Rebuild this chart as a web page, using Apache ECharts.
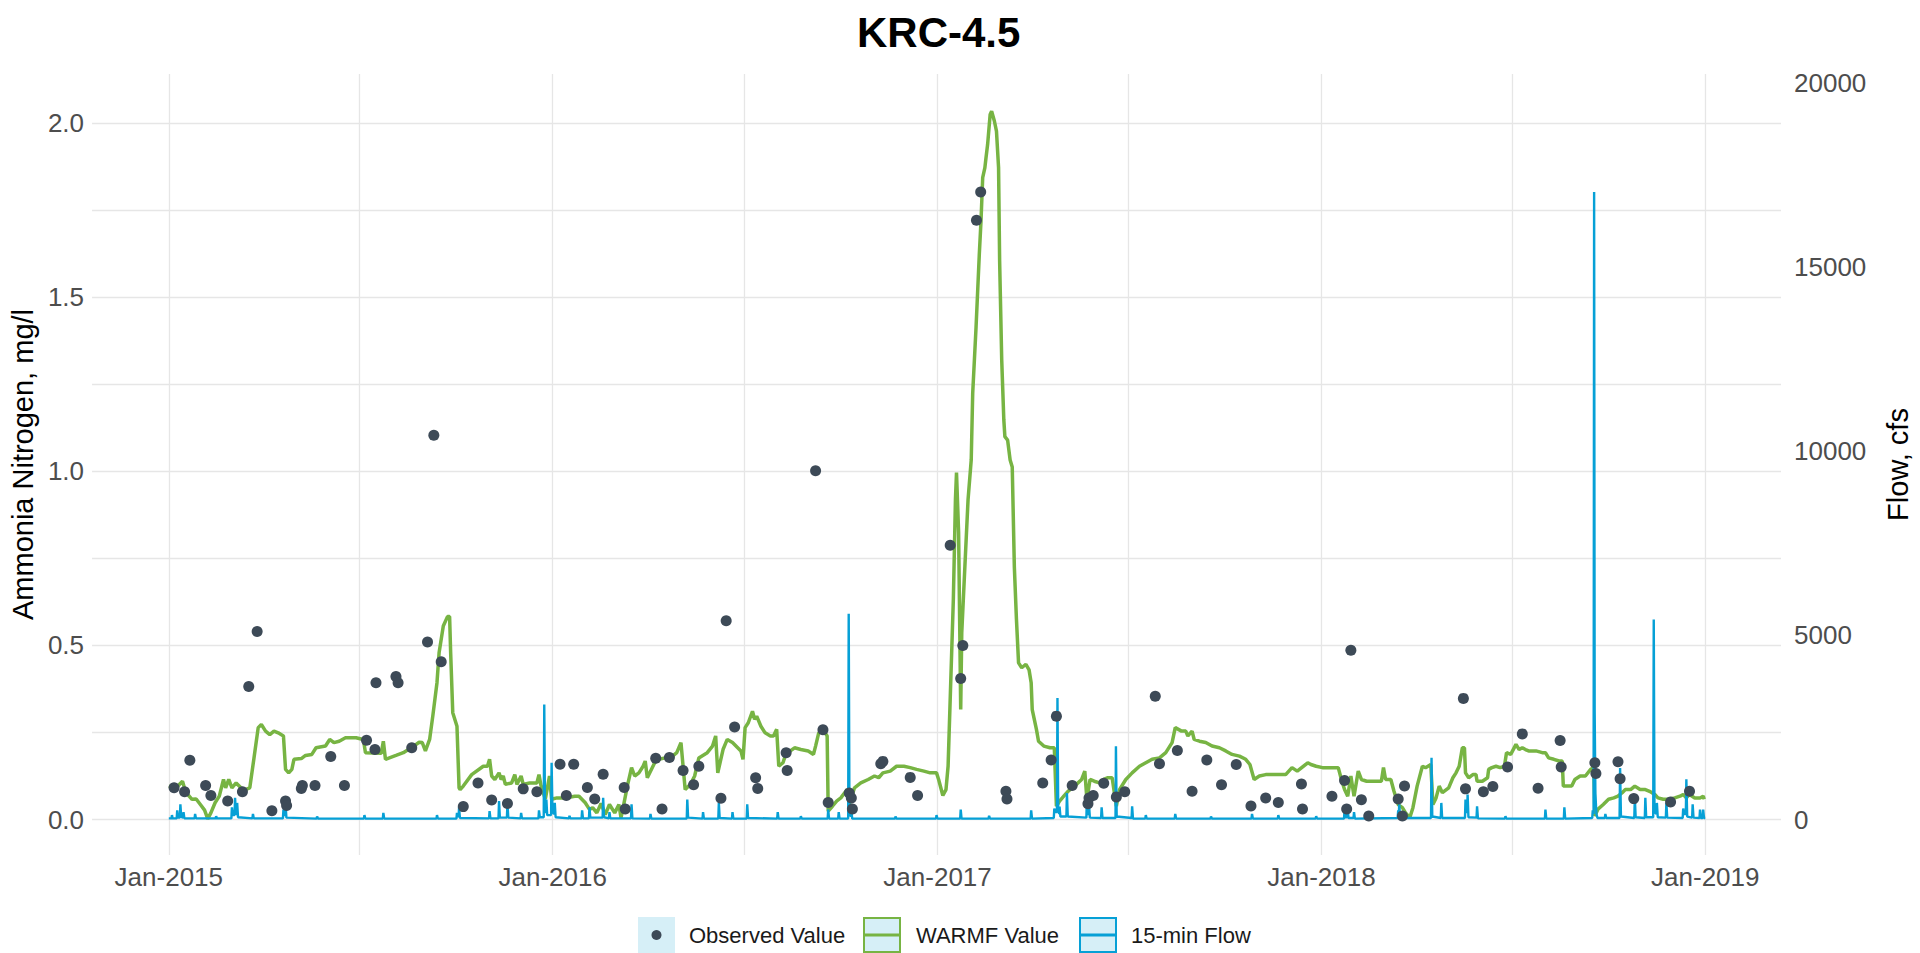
<!DOCTYPE html>
<html>
<head>
<meta charset="utf-8">
<title>KRC-4.5</title>
<script src="https://cdn.jsdelivr.net/npm/echarts@6/dist/echarts.min.js"></script>
<style>
html, body { margin: 0; padding: 0; background: #fff; }
#main { width: 1920px; height: 953px; }
</style>
</head>
<body>
<div id="main"></div>
<script>
// observed samples [date, mg/l]
var observed = [
['2015-01-06',0.091],['2015-01-16',0.080],['2015-01-21',0.170],['2015-02-05',0.098],['2015-02-10',0.069],['2015-02-26',0.053],['2015-03-12',0.080],['2015-03-18',0.382],['2015-03-26',0.540],['2015-04-09',0.025],['2015-04-22',0.053],['2015-04-23',0.040],['2015-05-07',0.089],['2015-05-08',0.098],['2015-05-20',0.098],['2015-06-04',0.181],['2015-06-17',0.098],['2015-07-08',0.228],['2015-07-16',0.201],['2015-07-17',0.393],['2015-08-05',0.411],['2015-08-07',0.393],['2015-08-20',0.206],['2015-09-04',0.510],['2015-09-10',1.104],['2015-09-17',0.453],['2015-10-08',0.037],['2015-10-22',0.105],['2015-11-04',0.056],['2015-11-19',0.046],['2015-12-04',0.088],['2015-12-17',0.080],
['2016-01-08',0.159],['2016-01-14',0.069],['2016-01-21',0.159],['2016-02-03',0.092],['2016-02-10',0.059],['2016-02-18',0.130],['2016-03-09',0.092],['2016-03-10',0.030],['2016-04-08',0.176],['2016-04-14',0.030],['2016-04-21',0.178],['2016-05-04',0.141],['2016-05-14',0.100],['2016-05-19',0.153],['2016-06-09',0.061],['2016-06-14',0.571],['2016-06-22',0.266],['2016-07-12',0.120],['2016-07-14',0.089],['2016-08-10',0.192],['2016-08-11',0.141],['2016-09-07',1.002],['2016-09-14',0.258],['2016-09-19',0.049],['2016-10-09',0.076],['2016-10-11',0.062],['2016-10-12',0.030],['2016-11-08',0.160],['2016-11-10',0.167],['2016-12-06',0.121],['2016-12-13',0.069],
['2017-01-13',0.788],['2017-01-23',0.405],['2017-01-25',0.500],['2017-02-07',1.722],['2017-02-11',1.803],['2017-03-07',0.081],['2017-03-08',0.059],['2017-04-11',0.105],['2017-04-19',0.171],['2017-04-24',0.297],['2017-05-09',0.098],['2017-05-24',0.045],['2017-05-25',0.062],['2017-05-29',0.069],['2017-06-08',0.104],['2017-06-20',0.065],['2017-06-28',0.080],['2017-07-27',0.354],['2017-07-31',0.160],['2017-08-17',0.198],['2017-08-31',0.081],['2017-09-14',0.171],['2017-09-28',0.100],['2017-10-12',0.158],['2017-10-26',0.039],['2017-11-09',0.062],['2017-11-21',0.049],['2017-12-13',0.102],['2017-12-14',0.030],
['2018-01-11',0.067],['2018-01-23',0.112],['2018-01-25',0.030],['2018-01-29',0.486],['2018-02-08',0.057],['2018-02-15',0.010],['2018-03-15',0.059],['2018-03-19',0.010],['2018-03-21',0.096],['2018-05-16',0.348],['2018-05-18',0.088],['2018-06-04',0.080],['2018-06-13',0.095],['2018-06-27',0.151],['2018-07-11',0.246],['2018-07-26',0.090],['2018-08-16',0.227],['2018-08-17',0.151],['2018-09-18',0.163],['2018-09-19',0.132],['2018-10-10',0.166],['2018-10-12',0.117],['2018-10-25',0.060],['2018-11-29',0.050],['2018-12-17',0.081]
];

// WARMF simulated [days after 2015-01-01, mg/l]
var warmf = [
[0,0.096],[7,0.091],[13,0.110],[16,0.079],[22,0.058],[26,0.059],[30,0.043],[34,0.027],[37,0.002],[40,0.019],[44,0.048],[48,0.067],[52,0.115],[54,0.091],[57,0.115],[60,0.091],[64,0.105],[71,0.084],[77,0.091],[81,0.177],[85,0.264],[88,0.273],[92,0.254],[96,0.244],[100,0.254],[104,0.249],[109,0.240],[111,0.144],[114,0.134],[117,0.144],[119,0.173],[126,0.175],[130,0.184],[136,0.187],[140,0.206],[149,0.211],[153,0.230],[157,0.221],[162,0.225],[168,0.235],[178,0.235],[185,0.230],[187,0.192],[202,0.190],[204,0.225],[206,0.173],[216,0.184],[223,0.192],[233,0.211],[238,0.222],[241,0.221],[244,0.197],[248,0.230],[251,0.297],[255,0.393],[257,0.479],[261,0.556],[265,0.583],[267,0.583],[268,0.479],[270,0.307],[274,0.268],[276,0.091],[277,0.086],[280,0.096],[288,0.129],[299,0.153],[303,0.153],[305,0.173],[307,0.125],[310,0.115],[314,0.134],[316,0.115],[318,0.125],[320,0.101],[326,0.105],[329,0.129],[331,0.101],[335,0.125],[337,0.101],[343,0.105],[350,0.105],[352,0.129],[354,0.096],[358,0.058],[362,0.125],[364,0.058],[369,0.062],[377,0.062],[386,0.067],[390,0.067],[396,0.048],[400,0.029],[403,0.034],[407,0.019],[411,0.046],[415,0.014],[419,0.043],[424,0.019],[428,0.043],[430,0.005],[432,0.034],[436,0.096],[440,0.149],[443,0.125],[447,0.134],[451,0.153],[453,0.168],[455,0.120],[462,0.163],[466,0.173],[472,0.177],[479,0.182],[483,0.192],[487,0.221],[491,0.086],[496,0.101],[500,0.125],[504,0.177],
[512,0.192],[517,0.211],[520,0.240],[522,0.134],[527,0.201],[531,0.230],[536,0.221],[544,0.197],[546,0.173],[548,0.264],[551,0.278],[555,0.311],[557,0.288],[559,0.297],[563,0.268],[567,0.249],[572,0.240],[575,0.240],[578,0.259],[580,0.153],[584,0.163],[586,0.182],[591,0.197],[595,0.206],[601,0.201],[608,0.197],[613,0.187],[615,0.211],[618,0.249],[623,0.254],[626,0.240],[627,0.024],[631,0.038],[635,0.053],[639,0.062],[645,0.086],[647,0.043],[652,0.091],[658,0.105],[665,0.115],[671,0.125],[675,0.120],[679,0.134],[686,0.139],[692,0.153],[699,0.153],[705,0.149],[711,0.144],[718,0.139],[724,0.134],[730,0.134],[732,0.115],[736,0.069],[739,0.086],[741,0.153],[743,0.345],[746,0.633],[748,0.920],[749,0.997],[751,0.825],[753,0.316],[754,0.537],[757,0.729],[760,0.920],[763,1.033],[764.4,1.224],[767.6,1.415],[769,1.51],[770.7,1.625],[772.3,1.72],[773.9,1.844],[776,1.873],[777,1.90],[778.6,1.94],[781,2.026],[782.4,2.035],[785,2.007],[787,1.978],[789,1.873],[790,1.606],[792,1.32],[794,1.148],[795,1.10],[797.6,1.09],[800,1.033],[802,1.013],[804,0.726],[806,0.575],[808,0.45],[811,0.436],[815,0.446],[818,0.43],[820,0.393],[821,0.316],[825,0.259],[827,0.225],[832,0.211],[838,0.206],[842,0.206],[844,0.038],[847,0.053],[851,0.067],[855,0.081],[859,0.091],[863,0.101],[868,0.115],[871,0.139],[873,0.058],[876,0.115],[880,0.110],[885,0.105],[889,0.115],[893,0.120],[897,0.120],[901,0.038],[904,0.086],[910,0.115],[916,0.134],[923,0.153],[929,0.163],[935,0.173],[942,0.177],[948,0.192],[954,0.221],[957,0.264],[963,0.254],[967,0.254],[969,0.240],[973,0.254],[975,0.230],[980,0.225],[986,0.221],[992,0.211],[999,0.206],[1005,0.197],[1011,0.187],[1018,0.182],[1024,0.173],[1028,0.158],[1032,0.115],[1037,0.125],[1043,0.129],[1054,0.129],[1062,0.129],[1068,0.149],[1073,0.139],[1083,0.163],
[1086,0.158],[1091,0.153],[1097,0.149],[1102,0.149],[1107,0.149],[1112,0.149],[1115,0.115],[1118,0.086],[1121,0.067],[1124,0.125],[1127,0.067],[1131,0.139],[1134,0.115],[1139,0.110],[1145,0.110],[1153,0.110],[1155,0.149],[1157,0.115],[1162,0.115],[1165,0.081],[1169,0.043],[1173,0.034],[1176,0.019],[1180,0.005],[1183,0.034],[1187,0.096],[1192,0.153],[1195,0.149],[1200,0.158],[1202,0.043],[1205,0.062],[1208,0.096],[1211,0.077],[1217,0.091],[1221,0.120],[1224,0.134],[1227,0.153],[1230,0.206],[1232,0.206],[1233,0.134],[1236,0.120],[1240,0.129],[1243,0.129],[1244,0.110],[1249,0.110],[1254,0.120],[1255,0.144],[1258,0.149],[1262,0.153],[1266,0.149],[1270,0.153],[1272,0.192],[1276,0.187],[1281,0.216],[1284,0.201],[1287,0.206],[1290,0.201],[1293,0.197],[1300,0.197],[1306,0.192],[1309,0.192],[1312,0.177],[1317,0.173],[1322,0.168],[1325,0.168],[1326,0.096],[1331,0.096],[1334,0.096],[1337,0.115],[1342,0.125],[1347,0.125],[1352,0.144],[1355,0.149],[1356,0.010],[1359,0.030],[1364,0.043],[1369,0.058],[1374,0.062],[1378,0.067],[1382,0.077],[1385,0.086],[1390,0.086],[1394,0.096],[1399,0.086],[1404,0.086],[1408,0.081],[1413,0.072],[1416,0.062],[1421,0.058],[1426,0.058],[1432,0.062],[1437,0.067],[1440,0.072],[1443,0.062],[1446,0.072],[1451,0.062],[1456,0.062],[1459,0.067],[1460,0.058]
];

// 15-min flow [days after 2015-01-01, cfs]
var flow = [
[0,30],[2.5,30],[3,120],[3.6,30],[7.5,30],[8,250],[8.8,50],[10.5,50],[11,410],[11.8,70],[13.5,50],[14,200],[14.8,30],[24.5,30],[25,150],[25.8,30],[44.5,30],[45,90],[45.8,30],[59.5,30],[60,330],[60.8,120],[62.5,120],[63,590],[63.8,150],[64.6,150],[65,450],[65.8,60],[79.5,30],[80,150],[80.8,30],[108.5,30],[109,270],[109.8,120],[110.5,120],[111,410],[111.8,50],[140.5,25],[141,80],[141.8,25],
[185.5,25],[186,120],[186.8,25],[203.5,25],[204,180],[204.8,25],[254.5,25],[255,120],[255.8,25],[273.5,25],[274,180],[274.8,90],[275.6,90],[276,330],[276.8,40],[304.5,30],[305,230],[305.8,30],[313.5,30],[314,500],[314.8,50],[321.5,50],[322,450],[322.8,50],[334.5,30],[335,180],[335.8,30],[351.5,30],[352,250],[352.8,60],[356.5,60],[357,3120],[357.7,200],[358.6,200],[359,540],[359.8,120],[363.5,120],[364,1540],[364.8,200],[366.5,150],[367,450],[367.8,60],
[380.5,30],[381,100],[381.8,30],[392.5,30],[393,250],[393.8,30],[399.5,30],[400,330],[400.8,50],[412.5,50],[413,590],[413.8,60],[418.5,30],[419,200],[419.8,30],[439.5,30],[440,410],[440.8,30],[457.5,25],[458,150],[458.8,25],[492.5,25],[493,540],[493.8,50],[507.5,25],[508,200],[508.8,25],[522.5,25],[523,450],[523.8,40],[535.5,25],[536,200],[536.8,25],[549.5,25],[550,410],[550.8,40],[578.5,25],[579,200],[579.8,25],[600.5,25],[601,90],[601.8,25],[626.5,25],[627,270],[627.8,25],[636.5,25],[637,200],[637.8,25],[646,25],[646.5,5590],[647.2,120],[648.6,100],[649,250],[649.8,25],[690.5,25],[691,80],[691.8,25],[729.5,25],[730,120],[730.8,25],
[752.5,25],[753,270],[753.8,25],[779.5,25],[780,100],[780.8,25],[819.5,25],[820,250],[820.8,25],[841.5,40],[842,300],[842.8,200],[844.5,200],[845,3300],[845.7,250],[846.6,150],[847,350],[847.8,80],[853.5,80],[854,720],[854.8,80],[872.5,50],[873,590],[873.8,150],[874.6,150],[875,400],[875.8,50],[886.5,40],[887,330],[887.8,40],[900.2,40],[900.6,1990],[901.3,80],[915.5,40],[916,360],[916.8,25],[928.5,25],[929,120],[929.8,25],[956.5,25],[957,150],[957.8,25],[990.5,25],[991,80],[991.8,25],[1029.5,25],[1030,150],[1030.8,25],[1054.5,25],[1055,120],[1055.8,25],[1090.5,25],[1091,90],[1091.8,25],
[1117.5,25],[1118,270],[1118.8,60],[1120.6,60],[1121,250],[1121.8,40],[1126.5,40],[1127,200],[1127.8,25],[1168.5,40],[1169,250],[1169.6,150],[1170,410],[1170.8,40],[1200.2,40],[1200.7,1675],[1201.4,80],[1209.5,40],[1210,450],[1210.8,40],[1232.5,40],[1233,540],[1233.8,200],[1234.6,200],[1235,680],[1235.8,60],[1243.5,50],[1244,360],[1244.8,30],[1270.5,25],[1271,90],[1271.8,25],[1308.5,25],[1309,270],[1309.8,25],[1326.5,25],[1327,330],[1327.8,25],
[1353.5,40],[1354,250],[1354.8,150],[1355.3,17040],[1355.8,2990],[1356.5,700],[1357.5,150],[1358.5,40],[1365.5,40],[1366,150],[1366.8,40],[1379.5,40],[1380,1400],[1380.8,80],[1393.5,40],[1394,590],[1394.8,60],[1403.5,40],[1404,590],[1404.8,60],[1411.5,60],[1412,5430],[1412.7,200],[1414.6,150],[1415,450],[1415.8,60],[1423.5,50],[1424,450],[1424.8,50],[1439.5,40],[1440,300],[1440.8,150],[1442.5,150],[1443,1090],[1443.8,80],[1448.5,50],[1449,410],[1449.8,50],[1455.5,40],[1456,270],[1456.8,40],[1458.5,40],[1459,270],[1459.8,40],[1461,40]
];

var leftTicks = [0, 0.5, 1.0, 1.5, 2.0];
var leftGrid = [0, 0.25, 0.5, 0.75, 1.0, 1.25, 1.5, 1.75, 2.0];
var rightTicks = [0, 5000, 10000, 15000, 20000];
var xLabelDates = ['2015-01-01', '2016-01-01', '2017-01-01', '2018-01-01', '2019-01-01'];
var xGridDates = ['2015-01-01', '2015-07-01', '2016-01-01', '2016-07-01', '2017-01-01', '2017-07-01', '2018-01-01', '2018-07-01', '2019-01-01'];
var monthNames = ['Jan', 'Feb', 'Mar', 'Apr', 'May', 'Jun', 'Jul', 'Aug', 'Sep', 'Oct', 'Nov', 'Dec'];

var FONT = 'Liberation Sans, Arial, sans-serif';
var GREEN = '#77b443';
var BLUE = '#06a0d6';
var DOT = '#3d4a57';
var KEY_FILL = '#d6eff7';

function toTime(s) {
    var p = s.split('-');
    return new Date(+p[0], +p[1] - 1, +p[2]).getTime();
}
var t0 = toTime('2015-01-01');
function dayTime(d) {
    return t0 + d * 86400000;
}

var warmfData = warmf.map(function (p) { return [dayTime(p[0]), p[1]]; });
var flowData = flow.map(function (p) { return [dayTime(p[0]), p[1]]; });
var obsData = observed.map(function (p) { return [toTime(p[0]), p[1]]; });

var myChart = echarts.init(document.getElementById('main'), null, { renderer: 'svg' });

var option = {
    animation: false,
    backgroundColor: '#ffffff',
    title: {
        text: 'KRC-4.5',
        left: 852,
        top: 6,
        textStyle: { fontFamily: FONT, fontSize: 42, fontWeight: 'bold', color: '#000' }
    },
    grid: { left: 91, right: 133, top: 74, bottom: 98 },
    xAxis: {
        // dates as timestamps on a value axis so ticks can be placed at Jan / Jul
        type: 'value',
        min: toTime('2014-10-20'),
        max: toTime('2019-03-14'),
        axisLine: { show: false, onZero: false },
        axisTick: { show: false, customValues: xGridDates.map(toTime) },
        axisLabel: {
            customValues: xLabelDates.map(toTime),
            formatter: function (v) {
                var d = new Date(v);
                return monthNames[d.getMonth()] + '-' + d.getFullYear();
            },
            color: '#4d4d4d', fontSize: 26, fontFamily: FONT, margin: 9
        },
        splitLine: { show: true, lineStyle: { color: '#e6e6e6', width: 1.3 } }
    },
    yAxis: [{
        type: 'value',
        position: 'left',
        min: -0.102,
        max: 2.142,
        axisLine: { show: false },
        axisTick: { show: false, customValues: leftGrid },
        axisLabel: {
            customValues: leftTicks,
            formatter: function (v) { return v.toFixed(1); },
            color: '#4d4d4d', fontSize: 26, fontFamily: FONT, margin: 8
        },
        splitLine: { show: true, lineStyle: { color: '#e6e6e6', width: 1.3 } },
        name: 'Ammonia Nitrogen, mg/l',
        nameLocation: 'middle',
        nameRotate: 90,
        nameGap: 46,
        nameTextStyle: { fontFamily: FONT, fontSize: 29, color: '#000' }
    }, {
        type: 'value',
        position: 'right',
        min: -964,
        max: 20244,
        axisLine: { show: false },
        axisTick: { show: false, customValues: rightTicks },
        axisLabel: {
            customValues: rightTicks,
            formatter: function (v) { return String(v); },
            color: '#4d4d4d', fontSize: 26, fontFamily: FONT, margin: 13
        },
        splitLine: { show: false },
        name: 'Flow, cfs',
        nameLocation: 'middle',
        nameRotate: 90,
        nameGap: 102,
        nameTextStyle: { fontFamily: FONT, fontSize: 29, color: '#000' }
    }],
    series: [{
        name: 'WARMF Value',
        type: 'line',
        yAxisIndex: 0,
        data: warmfData,
        showSymbol: false,
        lineStyle: { color: GREEN, width: 3.5 },
        itemStyle: { color: GREEN },
        z: 2
    }, {
        name: '15-min Flow',
        type: 'line',
        yAxisIndex: 1,
        data: flowData,
        showSymbol: false,
        lineStyle: { color: BLUE, width: 2.4 },
        itemStyle: { color: BLUE },
        z: 3
    }, {
        name: 'Observed Value',
        type: 'scatter',
        yAxisIndex: 0,
        data: obsData,
        symbolSize: 11,
        itemStyle: { color: DOT, opacity: 1 },
        z: 4
    }],
    // legend keys drawn as in the source figure
    graphic: [
        { type: 'rect', shape: { x: 638, y: 917, width: 37, height: 36 }, style: { fill: KEY_FILL } },
        { type: 'circle', shape: { cx: 656.5, cy: 935, r: 5 }, style: { fill: DOT } },
        { type: 'text', x: 689, y: 935, style: { text: 'Observed Value', fill: '#1a1a1a', font: '22px ' + FONT, verticalAlign: 'middle' } },
        { type: 'rect', shape: { x: 864, y: 918, width: 36, height: 34 }, style: { fill: KEY_FILL, stroke: GREEN, lineWidth: 2 } },
        { type: 'line', shape: { x1: 864, y1: 935, x2: 900, y2: 935 }, style: { stroke: GREEN, lineWidth: 3.2 } },
        { type: 'text', x: 916, y: 935, style: { text: 'WARMF Value', fill: '#1a1a1a', font: '22px ' + FONT, verticalAlign: 'middle' } },
        { type: 'rect', shape: { x: 1080, y: 918, width: 36, height: 34 }, style: { fill: KEY_FILL, stroke: BLUE, lineWidth: 2 } },
        { type: 'line', shape: { x1: 1080, y1: 935, x2: 1116, y2: 935 }, style: { stroke: BLUE, lineWidth: 3.2 } },
        { type: 'text', x: 1131, y: 935, style: { text: '15-min Flow', fill: '#1a1a1a', font: '22px ' + FONT, verticalAlign: 'middle' } }
    ]
};

myChart.setOption(option);
</script>
</body>
</html>
